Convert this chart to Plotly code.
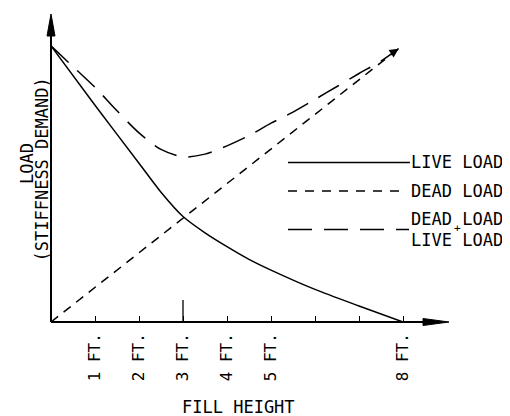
import plotly.graph_objects as go

# ---- data ----
live_x = [0, 1, 2, 2.5, 3, 3.5, 4, 4.5, 5, 6, 7, 8]
live_y = [100, 78.5, 57.5, 47, 38.2, 32.3, 27.3, 22.7, 18.8, 11.8, 5.8, 0]

dead_x = [0, 7.9]
dead_y = [0, 99]

sum_x = [0, 0.5, 1, 1.5, 2, 2.5, 3, 3.5, 4, 4.5, 5, 5.5, 6, 6.5, 7, 7.5, 7.9]
sum_y = [100, 92.5, 85, 76.5, 68.5, 62.5, 59.8, 60.8, 63.8, 67.5, 72, 76, 80.6, 85.3, 90, 94.5, 99]

tick_vals = [1, 2, 3, 4, 5, 6, 7, 8]
tick_text = ["1 FT.", "2 FT.", "3 FT.", "4 FT.", "5 FT.", "", "", "8 FT."]

legend_labels = ["LIVE LOAD", "DEAD LOAD", "DEAD LOAD", "LIVE LOAD"]
x_title = "FILL HEIGHT"
y_title = ["LOAD", "(STIFFNESS DEMAND)"]

# ---- layout geometry (page body has an 8px margin) ----
OFF = 8
FW, FH = 510 - OFF, 416 - OFF
ML, MR, MT, MB = 29 - OFF, 19, 10 - OFF, 94
PW, PH = FW - ML - MR, FH - MT - MB
XR = [-0.5, 10]
YR = [0, 113]
FONT = "DejaVu Sans Mono"


def px(xp):  # screen pixel x -> paper
    return (xp - OFF - ML) / PW


def py(yp):  # screen pixel y -> paper
    return (FH - MB - (yp - OFF)) / PH


def dx(v):  # data x -> paper
    return (v - XR[0]) / (XR[1] - XR[0])


fig = go.Figure()
fig.add_trace(go.Scatter(x=live_x, y=live_y, mode="lines", line=dict(color="black", width=1.5, shape="spline", smoothing=0.8), cliponaxis=False))
fig.add_trace(go.Scatter(x=dead_x, y=dead_y, mode="lines", line=dict(color="black", width=1.5, dash="9px,7px"), cliponaxis=False))
fig.add_trace(go.Scatter(x=sum_x, y=sum_y, mode="lines", line=dict(color="black", width=1.5, dash="24px,12px", shape="spline", smoothing=0.8), cliponaxis=False))

shapes = []
ox = dx(0)
# y axis line + arrowhead
shapes.append(dict(type="line", xref="paper", yref="paper", x0=ox, y0=0, x1=ox, y1=py(30), line=dict(color="black", width=2)))
shapes.append(dict(type="path", xref="paper", yref="paper", xsizemode="pixel", ysizemode="pixel", xanchor=ox, yanchor=0,
                   path="M -4,286 L 0,308 L 4,286 Z", fillcolor="black", line=dict(color="black", width=1)))
# x axis line + arrowhead
shapes.append(dict(type="line", xref="paper", yref="paper", x0=ox, y0=0, x1=px(430), y1=0, line=dict(color="black", width=2)))
shapes.append(dict(type="path", xref="paper", yref="paper", xsizemode="pixel", ysizemode="pixel", xanchor=ox, yanchor=0,
                   path="M 372,-3.5 L 398,0 L 372,3.5 Z", fillcolor="black", line=dict(color="black", width=1)))
# taller tick at 3 ft
shapes.append(dict(type="line", xref="x", yref="y", x0=3, y0=0, x1=3, y1=8, line=dict(color="black", width=1.3)))

# legend lines
shapes.append(dict(type="line", xref="paper", yref="paper", x0=px(288), x1=px(410), y0=py(162.5), y1=py(162.5), line=dict(color="black", width=1.3)))
shapes.append(dict(type="line", xref="paper", yref="paper", x0=px(288), x1=px(399), y0=py(191), y1=py(191), line=dict(color="black", width=1.5, dash="9px,8px")))
shapes.append(dict(type="line", xref="paper", yref="paper", x0=px(288), x1=px(409), y0=py(229.5), y1=py(229.5), line=dict(color="black", width=1.5, dash="24px,12px")))

annotations = []
# arrowhead at the end of the rising lines
annotations.append(dict(x=dead_x[-1], y=dead_y[-1], xref="x", yref="y", ax=-9, ay=6, showarrow=True, arrowhead=2,
                        arrowsize=1.2, arrowwidth=1.5, arrowcolor="black", text=""))
leg_pos = [161.5, 191, 219, 240]
for lab, yy in zip(legend_labels, leg_pos):
    annotations.append(dict(x=px(409), y=py(yy), xref="paper", yref="paper", text=lab, showarrow=False,
                            xanchor="left", yanchor="middle", font=dict(family=FONT, size=17, color="black")))
annotations.append(dict(x=px(457), y=py(229), xref="paper", yref="paper", text="+", showarrow=False,
                        xanchor="center", yanchor="middle", font=dict(family=FONT, size=11, color="black")))
# axis titles
annotations.append(dict(x=px(238), y=py(406.5), xref="paper", yref="paper", text=x_title, showarrow=False,
                        xanchor="center", yanchor="middle", font=dict(family=FONT, size=17, color="black")))
annotations.append(dict(x=px(27), y=py(164), xref="paper", yref="paper", text=y_title[0], showarrow=False, textangle=-90,
                        xanchor="center", yanchor="middle", font=dict(family=FONT, size=17, color="black")))
annotations.append(dict(x=px(41.5), y=py(170), xref="paper", yref="paper", text=y_title[1], showarrow=False, textangle=-90,
                        xanchor="center", yanchor="middle", font=dict(family=FONT, size=17, color="black")))

fig.update_layout(
    width=FW, height=FH, margin=dict(l=ML, r=MR, t=MT, b=MB),
    paper_bgcolor="white", plot_bgcolor="white", showlegend=False,
    shapes=shapes, annotations=annotations,
    xaxis=dict(range=XR, showgrid=False, zeroline=False, showline=False, tickmode="array",
               tickvals=tick_vals, ticktext=tick_text, ticks="inside", ticklen=6, tickwidth=1.3,
               tickcolor="black", tickangle=-90, ticklabelstandoff=7,
               tickfont=dict(family=FONT, size=16, color="black"), fixedrange=True),
    yaxis=dict(range=YR, showgrid=False, zeroline=False, showline=False, showticklabels=False,
               ticks="", fixedrange=True),
)
fig.write_html("out.html")
